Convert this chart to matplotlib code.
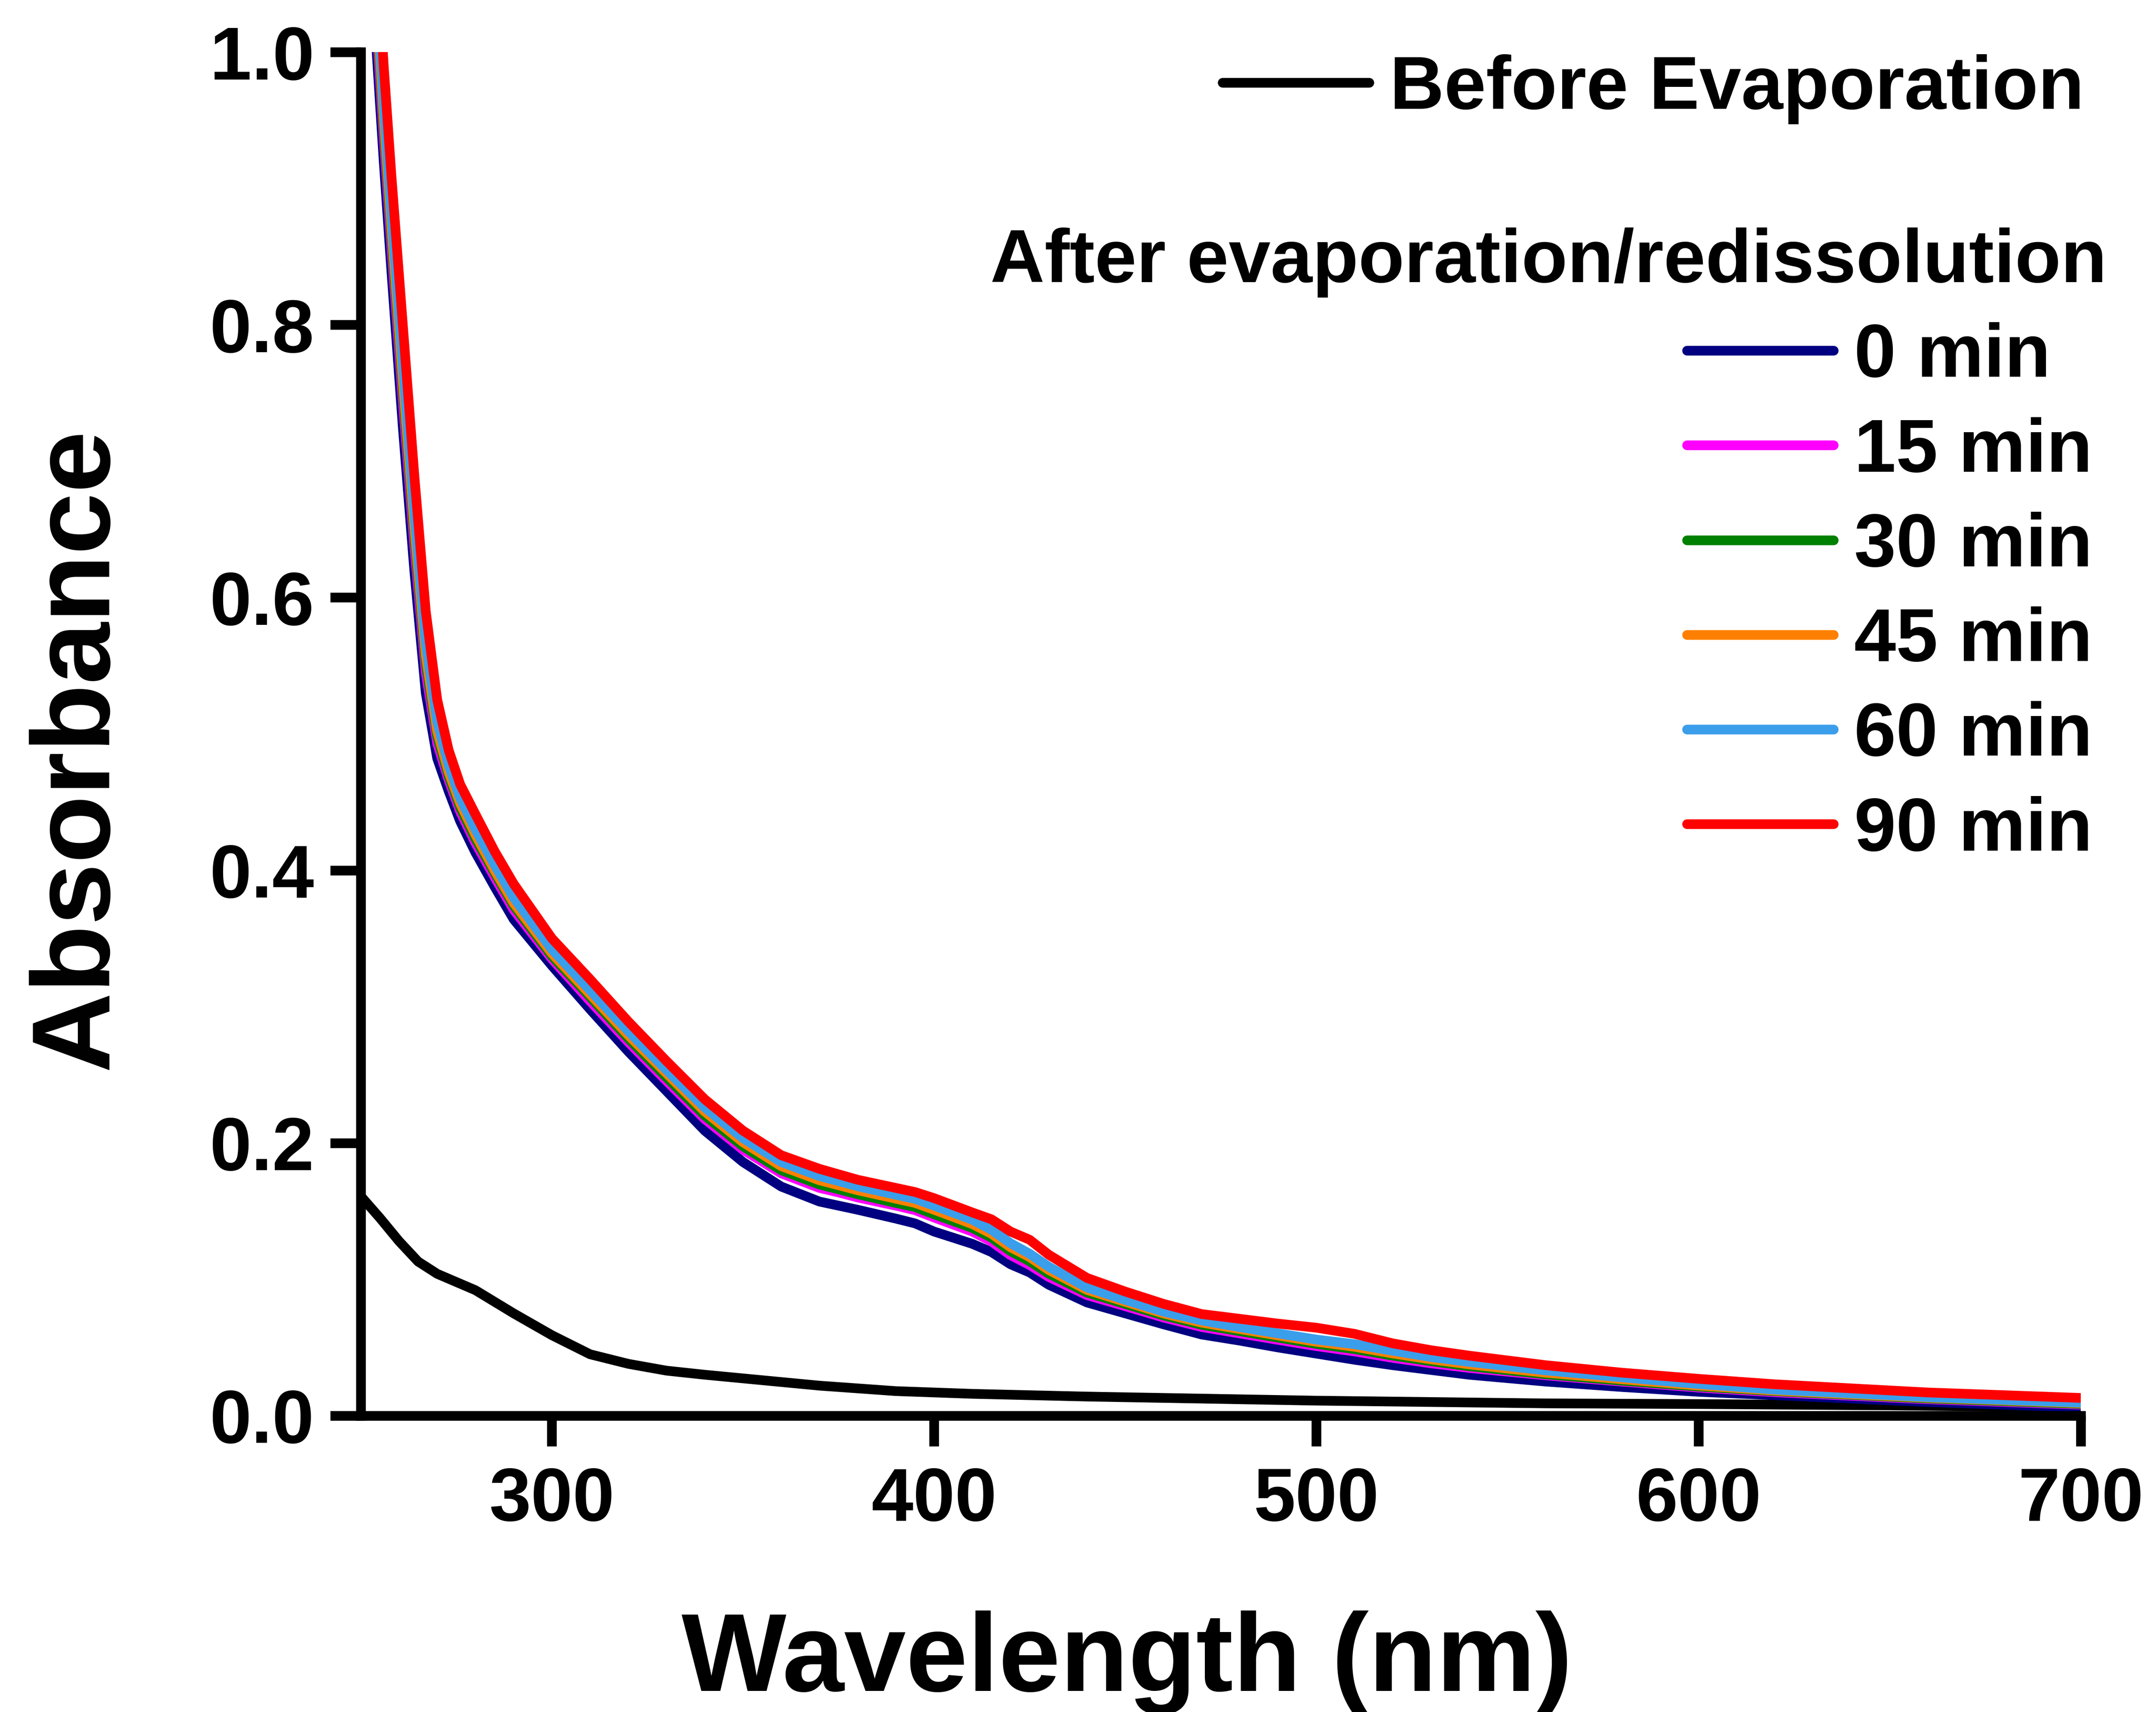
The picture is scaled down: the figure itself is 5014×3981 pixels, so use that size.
import matplotlib
matplotlib.use("Agg")
import matplotlib.pyplot as plt
from matplotlib.lines import Line2D
from matplotlib.ticker import FormatStrFormatter

plt.rcParams['font.family'] = ['Liberation Sans', 'DejaVu Sans']
plt.rcParams['font.weight'] = 'bold'

# wavelength grid (nm) for the six "after" spectra
wl = [250, 253, 256, 258, 261, 264, 267, 270, 273, 276,
      280, 285, 290, 300, 310, 320, 330, 340, 350, 360,
      370, 375, 380, 390, 395, 400, 410, 415, 420, 425,
      430, 440, 450, 460, 470, 480, 490, 500, 510, 520,
      530, 540, 560, 580, 600, 620, 640, 660, 680, 700]

abs_0 = [1.20, 1.05, 0.92, 0.84, 0.725, 0.62, 0.53, 0.482, 0.458, 0.436,
         0.413, 0.388, 0.364, 0.330, 0.298, 0.267, 0.238, 0.209, 0.186, 0.168,
         0.157, 0.154, 0.151, 0.1445, 0.141, 0.135, 0.126, 0.120, 0.111, 0.105,
         0.096, 0.083, 0.075, 0.067, 0.0595, 0.055, 0.050, 0.0455, 0.041, 0.037,
         0.0335, 0.030, 0.025, 0.021, 0.0175, 0.015, 0.0125, 0.010, 0.008, 0.006]

abs_15 = [1.218, 1.070, 0.938, 0.858, 0.744, 0.638, 0.545, 0.493, 0.466, 0.443,
          0.420, 0.395, 0.371, 0.335, 0.304, 0.274, 0.2455, 0.2175, 0.195, 0.1777,
          0.167, 0.1637, 0.160, 0.154, 0.1507, 0.1453, 0.135, 0.1277, 0.1177, 0.1105,
          0.1017, 0.0884, 0.0803, 0.072, 0.065, 0.0603, 0.0556, 0.051, 0.0471, 0.0424,
          0.0384, 0.035, 0.0296, 0.025, 0.0206, 0.0172, 0.0146, 0.0121, 0.0101, 0.0081]

abs_30 = [1.226, 1.080, 0.946, 0.866, 0.753, 0.646, 0.552, 0.498, 0.469, 0.446,
          0.423, 0.398, 0.374, 0.337, 0.307, 0.2765, 0.248, 0.220, 0.1975, 0.180,
          0.1695, 0.166, 0.1624, 0.156, 0.153, 0.1477, 0.1377, 0.1306, 0.1206, 0.1132,
          0.1041, 0.0902, 0.0819, 0.0735, 0.0666, 0.0619, 0.0572, 0.0526, 0.0488, 0.044,
          0.0399, 0.0362, 0.0303, 0.0256, 0.0213, 0.0179, 0.0152, 0.0126, 0.0106, 0.0086]

abs_45 = [1.233, 1.088, 0.953, 0.873, 0.760, 0.653, 0.558, 0.502, 0.472, 0.449,
          0.426, 0.400, 0.376, 0.339, 0.309, 0.279, 0.251, 0.223, 0.2005, 0.183,
          0.1726, 0.169, 0.1653, 0.1591, 0.156, 0.151, 0.1405, 0.1334, 0.1235, 0.1163,
          0.1068, 0.0922, 0.0835, 0.075, 0.0682, 0.0635, 0.0588, 0.0542, 0.0505, 0.0456,
          0.0413, 0.0376, 0.0315, 0.0267, 0.0221, 0.0184, 0.0157, 0.0132, 0.0112, 0.0092]

abs_60 = [1.243, 1.100, 0.963, 0.883, 0.772, 0.663, 0.567, 0.509, 0.477, 0.453,
          0.430, 0.404, 0.380, 0.342, 0.312, 0.282, 0.2535, 0.226, 0.2035, 0.186,
          0.1757, 0.172, 0.1682, 0.162, 0.159, 0.154, 0.1437, 0.1363, 0.1264, 0.1187,
          0.1092, 0.094, 0.0849, 0.0763, 0.0698, 0.0649, 0.0603, 0.0558, 0.0524, 0.0476,
          0.043, 0.0394, 0.0332, 0.0281, 0.0232, 0.0191, 0.0163, 0.0136, 0.0116, 0.0096]

abs_90 = [1.27, 1.13, 0.99, 0.91, 0.80, 0.69, 0.59, 0.525, 0.488, 0.463,
          0.441, 0.414, 0.390, 0.350, 0.320, 0.289, 0.260, 0.232, 0.209, 0.191,
          0.181, 0.177, 0.173, 0.167, 0.164, 0.1595, 0.149, 0.144, 0.135, 0.129,
          0.118, 0.101, 0.091, 0.082, 0.0745, 0.071, 0.0675, 0.0645, 0.060, 0.053,
          0.048, 0.044, 0.037, 0.0315, 0.027, 0.023, 0.020, 0.017, 0.015, 0.013]

# before evaporation spectrum
wl_before = [250, 255, 260, 265, 270, 275, 280, 290, 300, 310, 320, 330, 340,
             355, 370, 390, 410, 440, 470, 500, 530, 560, 600, 650, 700]
abs_before = [0.161, 0.145, 0.128, 0.113, 0.104, 0.098, 0.092, 0.075, 0.059,
              0.045, 0.038, 0.033, 0.030, 0.026, 0.022, 0.018, 0.016, 0.014,
              0.0125, 0.011, 0.010, 0.009, 0.0085, 0.0075, 0.006]

labels = ['0 min', '15 min', '30 min', '45 min', '60 min', '90 min']
colors = ['#000080', '#FF00FF', '#008000', '#FF8000', '#3A9EEA', '#FF0000']
series = [abs_0, abs_15, abs_30, abs_45, abs_60, abs_90]

LW = 5.4

fig = plt.figure(figsize=(5015 / 300, 3981 / 300), dpi=300)
ax = fig.add_axes([0.1673, 0.1731, 0.7976, 0.7965])

ax.plot(wl_before, abs_before, color='black', lw=LW, solid_joinstyle='round')
for y, c in zip(series, colors):
    ax.plot(wl, y, color=c, lw=LW, solid_joinstyle='round')

ax.set_xlim(250, 700)
ax.set_ylim(0, 1.0)
ax.set_xticks([300, 400, 500, 600, 700])
ax.set_yticks([0.0, 0.2, 0.4, 0.6, 0.8, 1.0])
ax.yaxis.set_major_formatter(FormatStrFormatter('%.1f'))

for s in ['top', 'right']:
    ax.spines[s].set_visible(False)
for s in ['left', 'bottom']:
    ax.spines[s].set_linewidth(LW)

ax.tick_params(axis='both', direction='out', length=17, width=LW, labelsize=42)
ax.tick_params(axis='x', pad=11)
ax.tick_params(axis='y', pad=9)
for t in ax.get_xticklabels() + ax.get_yticklabels():
    t.set_fontweight('bold')

ax.set_xlabel('Wavelength (nm)', fontsize=62, fontweight='bold', va='baseline')
ax.xaxis.set_label_coords(0.4455, -0.2018)
ax.set_ylabel('Absorbance', fontsize=62, fontweight='bold', va='baseline')
ax.yaxis.set_label_coords(-0.1475, 0.489)

# legends
h_before = [Line2D([], [], color='black', lw=LW, solid_capstyle='round')]
leg1 = ax.legend(h_before, ['Before Evaporation'], loc='upper left',
                 bbox_to_anchor=(0.501, 0.9985), frameon=False, borderpad=0,
                 borderaxespad=0, handlelength=1.95, handletextpad=0.275,
                 prop={'size': 42, 'weight': 'bold'})
ax.add_artist(leg1)

h_after = [Line2D([], [], color=c, lw=LW, solid_capstyle='round') for c in colors]
ax.legend(h_after, labels, loc='upper left', bbox_to_anchor=(0.771, 0.8018),
          frameon=False, borderpad=0, borderaxespad=0, handlelength=1.95,
          handletextpad=0.275, labelspacing=0.327,
          prop={'size': 42, 'weight': 'bold'})

ax.text(1.01525, 0.8313, 'After evaporation/redissolution', transform=ax.transAxes,
        ha='right', va='baseline', fontsize=42, fontweight='bold', clip_on=False)

fig.savefig('out.png', dpi=300)
